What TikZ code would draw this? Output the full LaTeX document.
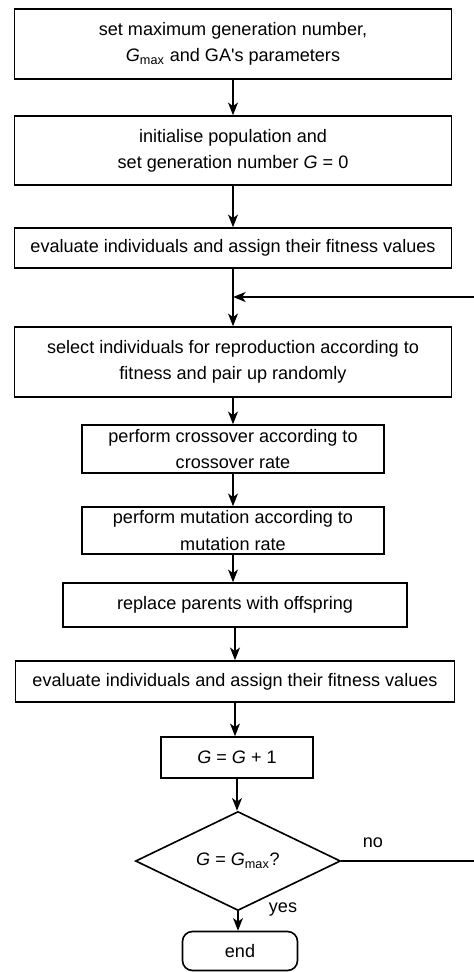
\documentclass[tikz,border=0pt]{standalone}
\usepackage{fontspec}
\setmainfont{Liberation Sans}
\usetikzlibrary{shapes.geometric, arrows.meta, positioning, calc}

\newcommand{\pu}{0.01944cm}
\newcommand{\Gv}{\textit{G}}

\begin{document}
\begin{tikzpicture}[
  x=\pu, y=-\pu,
  font=\fontsize{10}{14.5}\selectfont,
  >={Stealth[length=7pt, width=5.5pt, inset=2pt]},
  stage/.style={draw, rectangle, line width=0.9pt, align=center,
                inner xsep=2pt, inner ysep=1pt},
  decide/.style={draw, diamond, line width=0.9pt, inner sep=0pt,
                 align=center},
  term/.style={draw, rectangle, rounded corners=5.5pt, line width=0.9pt,
               align=center},
  flow/.style={->, line width=0.9pt},
  lbl/.style={inner sep=1pt}
]
  \useasboundingbox (0,0) rectangle (474,972);
  \clip (0,0) rectangle (474,972);

  %--- set-up ---
  \node[stage, minimum width=437*\pu, minimum height=70*\pu]
    (setup) at (233,44)
    {set maximum generation number,\\
     \Gv\textsubscript{max} and GA\textquotesingle s parameters};
  \node[stage, minimum width=437*\pu, minimum height=69*\pu]
    (init) at (233,150.5)
    {initialise population and\\ set generation number \Gv{} = 0};
  \node[stage, minimum width=437*\pu, minimum height=40*\pu]
    (eval) at (233,248)
    {evaluate individuals and assign their fitness values};

  %--- generation loop ---
  \node[stage, minimum width=437*\pu, minimum height=70*\pu]
    (select) at (233,362)
    {select individuals for reproduction according to\\
     fitness and pair up randomly};
  \node[stage, minimum width=302*\pu, minimum height=48*\pu]
    (cross) at (233,449)
    {perform crossover according to\\ crossover rate};
  \node[stage, minimum width=302*\pu, minimum height=47*\pu]
    (mutate) at (233,530.5)
    {perform mutation according to\\ mutation rate};
  \node[stage, minimum width=344*\pu, minimum height=44*\pu]
    (replace) at (235,605)
    {replace parents with offspring};
  \node[stage, minimum width=439*\pu, minimum height=41*\pu]
    (reeval) at (235,681.5)
    {evaluate individuals and assign their fitness values};
  \node[stage, minimum width=152*\pu, minimum height=41*\pu]
    (incr) at (237,757.5)
    {\Gv{} = \Gv{} + 1};

  %--- termination test ---
  \node[decide, minimum width=205*\pu, minimum height=79*\pu]
    (test) at (238,861)
    {\Gv{} = \Gv\textsubscript{max}?};
  \node[term, minimum width=115*\pu, minimum height=39*\pu]
    (stop) at (240,951)
    {end};

  \coordinate (merge) at (233,297);
  \coordinate (rim)   at (480,0);

  %--- connectors ---
  \draw[flow] (setup.south)   -- (setup.south   |- init.north);
  \draw[flow] (init.south)    -- (init.south    |- eval.north);
  \draw[flow] (eval.south)    -- (eval.south    |- select.north);
  \draw[flow] (select.south)  -- (select.south  |- cross.north);
  \draw[flow] (cross.south)   -- (cross.south   |- mutate.north);
  \draw[flow] (mutate.south)  -- (mutate.south  |- replace.north);
  \draw[flow] (replace.south) -- (replace.south |- reeval.north);
  \draw[flow] (reeval.south)  -- (reeval.south  |- incr.north);
  \draw[flow] (incr.south)    -- (incr.south    |- test.north);
  \draw[flow] (test.south)    -- (test.south    |- stop.north);

  % back to selection when G < Gmax
  \draw[flow] (test.east) -- (rim |- test.east) -- (rim |- merge) -- (merge);

  \node[lbl] (nolab)  at (373,843) {no};
  \node[lbl] (yeslab) at (283,909) {yes};
\end{tikzpicture}
\end{document}
